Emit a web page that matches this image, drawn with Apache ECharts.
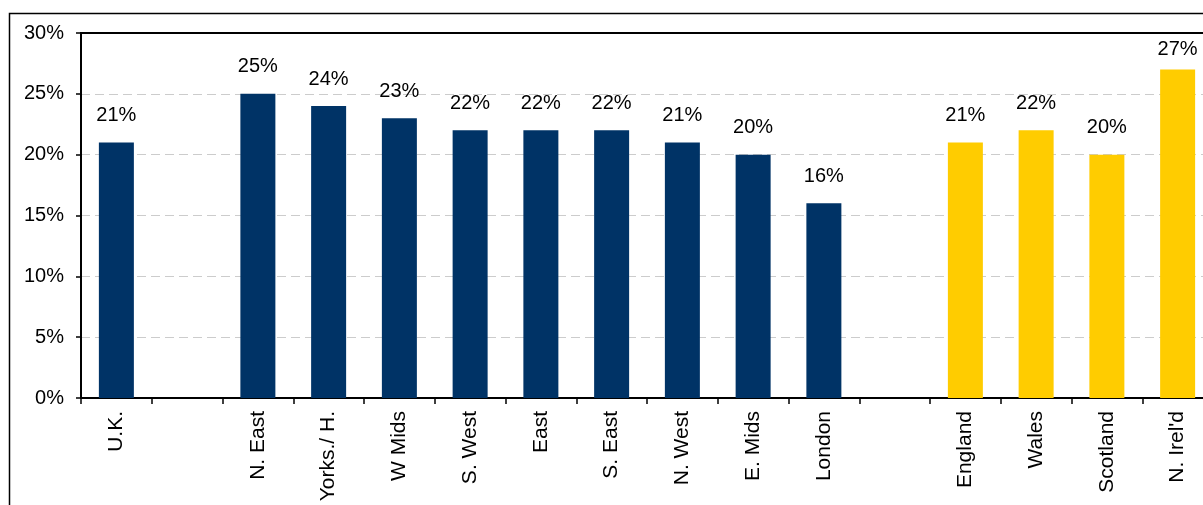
<!DOCTYPE html>
<html>
<head>
<meta charset="utf-8">
<script src="https://cdn.jsdelivr.net/npm/echarts@6/dist/echarts.min.js"></script>
<style>
html,body{margin:0;padding:0;background:#fff;}
#c{width:1203px;height:505px;}
</style>
</head>
<body>
<div id="c"></div>
<script>
const categories = ["U.K.", "", "N. East", "Yorks./ H.", "W Mids", "S. West", "East", "S. East", "N. West", "E. Mids", "London", " ", "England", "Wales", "Scotland", "N. Irel'd"];
const regionValues = [21, null, 25, 24, 23, 22, 22, 22, 21, 20, 16, null, null, null, null, null];
const nationValues = [null, null, null, null, null, null, null, null, null, null, null, null, 21, 22, 20, 27];
const yTicks = [0, 5, 10, 15, 20, 25, 30];

const font = "'Liberation Sans', Arial, sans-serif";
const chart = echarts.init(document.getElementById('c'), null, {renderer: 'canvas'});
const labelCfg = {
  show: true, position: 'top', distance: 17,
  formatter: p => p.value + '%', color: '#000', fontSize: 20, fontFamily: font
};
// Labels near the top of the plot get pushed down (as in the original chart)
const toItems = arr => arr.map(v => (v !== null && v > 26) ? {value: v, label: {distance: 10}} : v);

chart.setOption({
  animation: false,
  backgroundColor: '#fff',
  graphic: [{
    type: 'rect', z: 100, silent: true,
    shape: {x: 9.5, y: 13.5, width: 1400, height: 700},
    style: {fill: 'none', stroke: '#000', lineWidth: 1.5}
  }, {
    type: 'line', z: 100, silent: true,
    shape: {x1: 80, y1: 33, x2: 1300, y2: 33},
    style: {stroke: '#000', lineWidth: 2}
  }],
  grid: {
    left: 81, top: 33, width: 1132, height: 365,
    outerBoundsMode: 'none', containLabel: false,
    show: false
  },
  xAxis: {
    type: 'category', data: categories,
    axisLine: {lineStyle: {color: '#000', width: 2}},
    axisTick: {show: true, length: 6, lineStyle: {color: '#000', width: 1.5}, alignWithLabel: false},
    axisLabel: {rotate: 90, margin: 13, fontSize: 21, color: '#000', fontFamily: font, interval: 0}
  },
  yAxis: {
    type: 'value', min: yTicks[0], max: yTicks[yTicks.length - 1], interval: 5,
    axisLine: {show: true, lineStyle: {color: '#000', width: 2}},
    axisTick: {show: true, length: 5, lineStyle: {color: '#000', width: 1.5}},
    axisLabel: {formatter: v => v + '%', fontSize: 20, color: '#000', fontFamily: font, margin: 17},
    splitLine: {show: true, lineStyle: {color: '#cccccc', width: 1, type: [9, 5]}}
  },
  series: [
    {
      type: 'bar', data: toItems(regionValues), stack: 'a', barWidth: 35,
      itemStyle: {color: '#003366'}, label: labelCfg
    },
    {
      type: 'bar', data: toItems(nationValues), stack: 'a', barWidth: 35,
      itemStyle: {color: '#FFCC00'}, label: labelCfg
    }
  ]
});
</script>
</body>
</html>
